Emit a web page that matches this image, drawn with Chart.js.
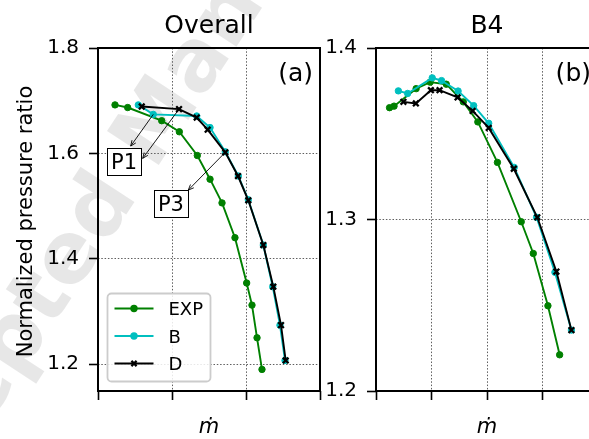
<!DOCTYPE html>
<html><head><meta charset="utf-8">
<script src="https://cdn.jsdelivr.net/npm/chart.js@4"></script>
<style>
html,body{margin:0;padding:0;width:589px;height:439px;overflow:hidden;background:#fff;}
#wa{position:absolute;left:0;top:0;width:330px;height:439px;}
#wb{position:absolute;left:320px;top:0;width:300px;height:439px;}
canvas{display:block;}
</style></head><body>
<div id="wa"><canvas id="ca" width="330" height="439"></canvas></div>
<div id="wb"><canvas id="cb" width="300" height="439"></canvas></div>
<script>
// ---------- data ----------
const seriesLabels = ['EXP', 'B', 'D'];
const seriesColors = ['#008000', '#00bfbf', '#000000'];

// Panel (a) Overall
const overallExpX = [0.230, 0.401, 0.861, 1.099, 1.342, 1.514, 1.676, 1.851, 2.009, 2.081, 2.149, 2.216];
const overallExpY = [1.692, 1.687, 1.662, 1.641, 1.596, 1.551, 1.506, 1.440, 1.354, 1.312, 1.250, 1.190];
const overallBX   = [0.545, 0.747, 1.334, 1.514, 1.720, 1.896, 2.031, 2.234, 2.361, 2.459, 2.527];
const overallBY   = [1.692, 1.674, 1.671, 1.649, 1.603, 1.557, 1.512, 1.426, 1.347, 1.274, 1.207];
const overallDX   = [0.591, 1.095, 1.334, 1.482, 1.720, 1.892, 2.031, 2.234, 2.369, 2.473, 2.536];
const overallDY   = [1.689, 1.684, 1.668, 1.645, 1.602, 1.557, 1.511, 1.426, 1.347, 1.274, 1.207];

// Panel (b) B4
const b4ExpX = [0.244, 0.325, 0.723, 0.976, 1.266, 1.573, 1.835, 2.188, 2.617, 2.834, 3.098, 3.309];
const b4ExpY = [1.3652, 1.3661, 1.3763, 1.3801, 1.3789, 1.3686, 1.3569, 1.3333, 1.2987, 1.2802, 1.2497, 1.2211];
const b4BX   = [0.403, 0.570, 1.013, 1.181, 1.479, 1.760, 2.031, 2.490, 2.893, 3.224, 3.521];
const b4BY   = [1.3750, 1.3735, 1.3826, 1.3810, 1.3749, 1.3664, 1.3561, 1.3304, 1.3013, 1.2692, 1.2355];
const b4DX   = [0.494, 0.718, 0.989, 1.145, 1.470, 1.741, 2.031, 2.483, 2.906, 3.250, 3.521];
const b4DY   = [1.3686, 1.3677, 1.3754, 1.3754, 1.3712, 1.3633, 1.3534, 1.3296, 1.3013, 1.2696, 1.2355];

// Ticks
const overallXTicks = [0, 1, 2, 3];
const overallYTicks = [1.2, 1.4, 1.6, 1.8];
const b4XTicks = [0, 1, 2, 3, 4];
const b4YTicks = [1.2, 1.3, 1.4];

// Annotations (panel a)
const annotLabels = ['P1', 'P3'];
const annotLabelX = [0.351, 0.986];
const annotLabelY = [1.5844, 1.5047];
const arrowFromSeries = [1, 2, 2];   // B, D, D
const arrowFromIndex  = [1, 1, 4];
const arrowToX = [0.442, 0.604, 1.220];
const arrowToY = [1.6139, 1.5905, 1.5303];

// ---------- helpers ----------
const FONT = '"DejaVu Sans", sans-serif';

function buildDatasets(xsList, ysList) {
  return xsList.map((xs, k) => ({
    label: seriesLabels[k],
    data: xs.map((x, i) => ({ x: x, y: ysList[k][i] })),
    borderColor: seriesColors[k],
    backgroundColor: seriesColors[k],
    borderWidth: 1.9,
    pointStyle: k === 2 ? 'crossRot' : 'circle',
    pointRadius: k === 2 ? 4 : 3.2,
    pointBorderWidth: k === 2 ? 2.3 : 1,
    pointBorderColor: seriesColors[k],
    pointBackgroundColor: seriesColors[k],
    tension: 0,
    fill: false,
    order: 3 - k
  }));
}

function gridOpts() {
  return { color: '#4d4d4d', lineWidth: 0.9, drawTicks: true, tickLength: 9,
           tickColor: '#000', tickWidth: 1.6, tickBorderDash: [] };
}

function makeScales(xMin, xMax, xTicks, yMin, yMax, yTicks, yWidth) {
  return {
    x: {
      type: 'linear', min: xMin, max: xMax,
      afterBuildTicks: s => { s.ticks = xTicks.map(v => ({ value: v })); },
      ticks: { display: false },
      grid: gridOpts(),
      border: { display: false, dash: [1.5, 1.8] },
      afterFit: s => { s.height = 48; }
    },
    y: {
      type: 'linear', min: yMin, max: yMax,
      afterBuildTicks: s => { s.ticks = yTicks.map(v => ({ value: v })); },
      ticks: { font: { family: 'DejaVu Sans', size: 20 }, color: '#000', padding: 10,
               callback: v => Number(v).toFixed(1) },
      grid: gridOpts(),
      border: { display: false, dash: [1.5, 1.8] },
      afterFit: s => { s.width = yWidth; }
    }
  };
}

function drawMarker(ctx, style, x, y, color) {
  ctx.save();
  ctx.fillStyle = color; ctx.strokeStyle = color;
  if (style === 'circle') {
    ctx.beginPath(); ctx.arc(x, y, 3.7, 0, Math.PI * 2); ctx.fill();
  } else {
    ctx.lineWidth = 2.2; const r = 2.6;
    ctx.beginPath();
    ctx.moveTo(x - r, y - r); ctx.lineTo(x + r, y + r);
    ctx.moveTo(x - r, y + r); ctx.lineTo(x + r, y - r);
    ctx.stroke();
  }
  ctx.restore();
}

function drawArrow(ctx, x1, y1, x2, y2) {
  ctx.save();
  ctx.strokeStyle = '#000'; ctx.lineWidth = 0.9;
  ctx.beginPath(); ctx.moveTo(x1, y1); ctx.lineTo(x2, y2); ctx.stroke();
  const a = Math.atan2(y2 - y1, x2 - x1), L = 6, h = 0.4;
  ctx.beginPath();
  ctx.moveTo(x2 - L * Math.cos(a - h), y2 - L * Math.sin(a - h));
  ctx.lineTo(x2, y2);
  ctx.lineTo(x2 - L * Math.cos(a + h), y2 - L * Math.sin(a + h));
  ctx.stroke();
  ctx.restore();
}

function makeDecor(cfg) {
  return {
    id: 'decor',
    beforeDraw(chart) {
      if (!cfg.watermark) return;
      const ctx = chart.ctx;
      ctx.save();
      ctx.font = 'bold 85px ' + FONT;
      ctx.fillStyle = 'rgba(0,0,0,0.095)';
      ctx.translate(15, 342);
      ctx.rotate(-56.7 * Math.PI / 180);
      const pre = ctx.measureText('Acce').width + ctx.measureText('p').width / 2;
      ctx.fillText('Accepted Manuscript', -pre, 23);
      ctx.restore();
    },
    afterDatasetsDraw(chart) {
      if (!cfg.annotations) return;
      const ctx = chart.ctx, xs = chart.scales.x, ys = chart.scales.y;
      for (let i = 0; i < arrowToX.length; i++) {
        const p = chart.data.datasets[arrowFromSeries[i]].data[arrowFromIndex[i]];
        drawArrow(ctx, xs.getPixelForValue(p.x), ys.getPixelForValue(p.y),
                  xs.getPixelForValue(arrowToX[i]), ys.getPixelForValue(arrowToY[i]));
      }
      ctx.save();
      ctx.font = '21px ' + FONT;
      ctx.textAlign = 'center'; ctx.textBaseline = 'alphabetic';
      for (let i = 0; i < annotLabels.length; i++) {
        const cx = xs.getPixelForValue(annotLabelX[i]), cy = ys.getPixelForValue(annotLabelY[i]);
        const w = ctx.measureText(annotLabels[i]).width + 8, h = 27;
        ctx.fillStyle = '#fff';
        ctx.fillRect(cx - w / 2, cy - h / 2, w, h);
        ctx.strokeStyle = '#000'; ctx.lineWidth = 1;
        ctx.strokeRect(Math.round(cx - w / 2) + 0.5, Math.round(cy - h / 2) + 0.5, Math.round(w), h);
        ctx.fillStyle = '#000';
        ctx.fillText(annotLabels[i], cx, cy + 7.7);
      }
      ctx.restore();
    },
    afterDraw(chart) {
      const ctx = chart.ctx, a = chart.chartArea;
      ctx.save();
      // frame
      ctx.strokeStyle = '#000'; ctx.lineWidth = 2;
      ctx.strokeRect(a.left, a.top, a.right - a.left, a.bottom - a.top);
      const cx = (a.left + a.right) / 2;
      ctx.fillStyle = '#000';
      // title
      ctx.font = '25px ' + FONT; ctx.textAlign = 'center'; ctx.textBaseline = 'alphabetic';
      ctx.fillText(cfg.title, cx, 33);
      // panel letter
      ctx.textAlign = 'right';
      ctx.fillText(cfg.letter, a.right - 7, 81);
      // x label
      ctx.font = 'italic 21px ' + FONT; ctx.textAlign = 'center';
      ctx.fillText('\u1E41', cx, 433);
      // y label
      if (cfg.ylabel) {
        ctx.save();
        ctx.font = '21px ' + FONT;
        ctx.translate(32, (a.top + a.bottom) / 2 + 2);
        ctx.rotate(-Math.PI / 2);
        ctx.textAlign = 'center'; ctx.textBaseline = 'alphabetic';
        ctx.fillText(cfg.ylabel, 0, 0);
        ctx.restore();
      }
      // legend
      if (cfg.legend) {
        const bx = a.left + 9.5, by = a.bottom - 9.5 - 88, bw = 103, bh = 88;
        ctx.beginPath();
        ctx.roundRect(bx, by, bw, bh, 4);
        ctx.fillStyle = 'rgba(255,255,255,0.85)'; ctx.fill();
        ctx.strokeStyle = '#cccccc'; ctx.lineWidth = 1.8; ctx.stroke();
        chart.data.datasets.forEach((ds, i) => {
          const ry = by + 15 + i * 27.5;
          ctx.strokeStyle = ds.borderColor; ctx.lineWidth = 1.9;
          ctx.beginPath(); ctx.moveTo(bx + 7, ry); ctx.lineTo(bx + 46, ry); ctx.stroke();
          drawMarker(ctx, ds.pointStyle, bx + 26.5, ry, ds.borderColor);
          ctx.fillStyle = '#000'; ctx.font = '18px ' + FONT; ctx.textAlign = 'left';
          ctx.fillText(ds.label, bx + 61, ry + 6.6);
        });
      }
      ctx.restore();
    }
  };
}

function makeChart(id, datasets, scales, padding, cfg) {
  return new Chart(document.getElementById(id), {
    type: 'line',
    data: { datasets: datasets },
    options: {
      responsive: false, animation: false, devicePixelRatio: 1,
      layout: { padding: padding },
      scales: scales,
      plugins: { legend: { display: false }, tooltip: { enabled: false } },
      elements: { line: { tension: 0 } }
    },
    plugins: [makeDecor(cfg)]
  });
}

makeChart('ca',
  buildDatasets([overallExpX, overallBX, overallDX], [overallExpY, overallBY, overallDY]),
  makeScales(0, 3, overallXTicks, 1.149, 1.8, overallYTicks, 98),
  { top: 48, right: 10, left: 0, bottom: 0 },
  { title: 'Overall', letter: '(a)', ylabel: 'Normalized pressure ratio', legend: true, annotations: true, watermark: true });

makeChart('cb',
  buildDatasets([b4ExpX, b4BX, b4DX], [b4ExpY, b4BY, b4DY]),
  makeScales(0, 4, b4XTicks, 1.2, 1.4, b4YTicks, 56),
  { top: 48, right: 22, left: 0, bottom: 0 },
  { title: 'B4', letter: '(b)', ylabel: null, legend: false, annotations: false, watermark: false });
</script>
</body></html>
